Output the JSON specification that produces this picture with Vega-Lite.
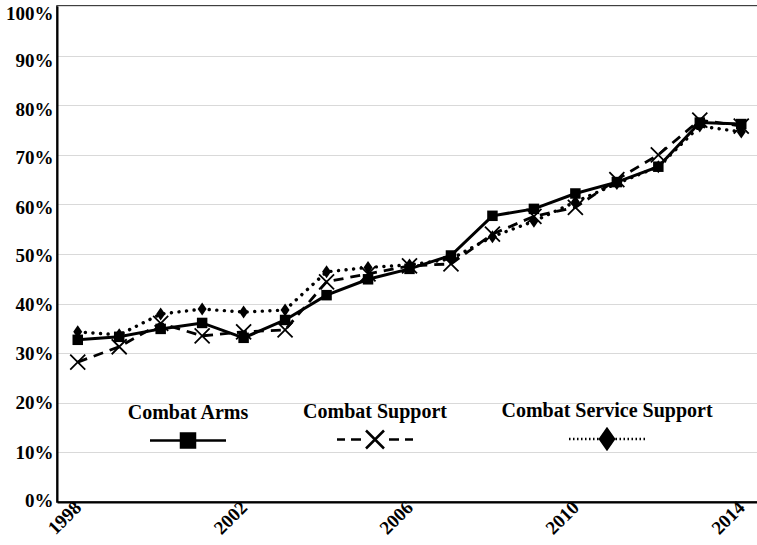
{
  "$schema": "https://vega.github.io/schema/vega-lite/v6.json",
  "width": 705,
  "height": 496,
  "autosize": {"type": "none"},
  "padding": {"left": 57, "top": 6, "right": 0, "bottom": 43},
  "background": "white",
  "config": {"view": {"stroke": "black", "strokeWidth": 1.5}, "font": "Liberation Serif"},
  "data": {"values": [
    {"year": 1998, "series": "Combat Arms", "value": 32.7},
    {"year": 1999, "series": "Combat Arms", "value": 33.3},
    {"year": 2000, "series": "Combat Arms", "value": 34.9},
    {"year": 2001, "series": "Combat Arms", "value": 36.1},
    {"year": 2002, "series": "Combat Arms", "value": 33.1},
    {"year": 2003, "series": "Combat Arms", "value": 36.7},
    {"year": 2004, "series": "Combat Arms", "value": 41.7},
    {"year": 2005, "series": "Combat Arms", "value": 44.9},
    {"year": 2006, "series": "Combat Arms", "value": 47.0},
    {"year": 2007, "series": "Combat Arms", "value": 49.7},
    {"year": 2008, "series": "Combat Arms", "value": 57.7},
    {"year": 2009, "series": "Combat Arms", "value": 59.1},
    {"year": 2010, "series": "Combat Arms", "value": 62.2},
    {"year": 2011, "series": "Combat Arms", "value": 64.5},
    {"year": 2012, "series": "Combat Arms", "value": 67.6},
    {"year": 2013, "series": "Combat Arms", "value": 76.5},
    {"year": 2014, "series": "Combat Arms", "value": 76.2},
    {"year": 1998, "series": "Combat Support", "value": 28.2},
    {"year": 1999, "series": "Combat Support", "value": 31.3},
    {"year": 2000, "series": "Combat Support", "value": 36.0},
    {"year": 2001, "series": "Combat Support", "value": 33.5},
    {"year": 2002, "series": "Combat Support", "value": 34.3},
    {"year": 2003, "series": "Combat Support", "value": 34.7},
    {"year": 2004, "series": "Combat Support", "value": 44.4},
    {"year": 2005, "series": "Combat Support", "value": 46.0},
    {"year": 2006, "series": "Combat Support", "value": 47.6},
    {"year": 2007, "series": "Combat Support", "value": 48.0},
    {"year": 2008, "series": "Combat Support", "value": 54.0},
    {"year": 2009, "series": "Combat Support", "value": 57.6},
    {"year": 2010, "series": "Combat Support", "value": 59.4},
    {"year": 2011, "series": "Combat Support", "value": 65.0},
    {"year": 2012, "series": "Combat Support", "value": 70.0},
    {"year": 2013, "series": "Combat Support", "value": 77.0},
    {"year": 2014, "series": "Combat Support", "value": 75.8},
    {"year": 1998, "series": "Combat Service Support", "value": 34.3},
    {"year": 1999, "series": "Combat Service Support", "value": 33.7},
    {"year": 2000, "series": "Combat Service Support", "value": 37.9},
    {"year": 2001, "series": "Combat Service Support", "value": 38.9},
    {"year": 2002, "series": "Combat Service Support", "value": 38.3},
    {"year": 2003, "series": "Combat Service Support", "value": 38.7},
    {"year": 2004, "series": "Combat Service Support", "value": 46.4},
    {"year": 2005, "series": "Combat Service Support", "value": 47.3},
    {"year": 2006, "series": "Combat Service Support", "value": 47.8},
    {"year": 2007, "series": "Combat Service Support", "value": 49.0},
    {"year": 2008, "series": "Combat Service Support", "value": 53.5},
    {"year": 2009, "series": "Combat Service Support", "value": 56.6},
    {"year": 2010, "series": "Combat Service Support", "value": 60.5},
    {"year": 2011, "series": "Combat Service Support", "value": 64.2},
    {"year": 2012, "series": "Combat Service Support", "value": 67.6},
    {"year": 2013, "series": "Combat Service Support", "value": 75.8},
    {"year": 2014, "series": "Combat Service Support", "value": 74.6}
  ]},
  "encoding": {
    "x": {
      "field": "year", "type": "quantitative",
      "scale": {"domain": [1997.5, 2014.5], "nice": false, "zero": false},
      "axis": {
        "values": [1998, 2002, 2006, 2010, 2014], "format": "d", "labelAngle": -45,
        "labelAlign": "right", "labelBaseline": "middle",
        "grid": false, "ticks": false, "title": null, "labelFlush": false,
        "domainColor": "black", "domainWidth": 2,
        "labelFont": "Liberation Serif", "labelFontSize": 19, "labelFontWeight": "bold",
        "labelColor": "black", "labelPadding": 2
      }
    },
    "y": {
      "field": "value", "type": "quantitative",
      "scale": {"domain": [0, 100], "nice": false},
      "axis": {
        "values": [0, 10, 20, 30, 40, 50, 60, 70, 80, 90, 100],
        "labelExpr": "datum.value + '%'", "title": null, "ticks": false, "labelFlush": false,
        "labelOffset": {
          "condition": [
            {"test": "datum.value >= 95", "value": 7},
            {"test": "datum.value >= 85", "value": 5},
            {"test": "datum.value >= 75", "value": 4},
            {"test": "datum.value >= 55", "value": 3},
            {"test": "datum.value >= 35", "value": 1},
            {"test": "datum.value < 5", "value": -2}
          ],
          "value": 0
        },
        "domainColor": "black", "domainWidth": 2, "gridColor": "#d9d9d9", "gridWidth": 1.2,
        "labelFont": "Liberation Serif", "labelFontSize": 19, "labelFontWeight": "bold",
        "labelColor": "black", "labelPadding": 4
      }
    }
  },
  "layer": [
    {
      "transform": [{"filter": "datum.series === 'Combat Arms'"}],
      "mark": {"type": "line", "strokeWidth": 3},
      "encoding": {
        "color": {
          "field": "series", "type": "nominal",
          "scale": {"domain": ["Combat Arms", "Combat Support", "Combat Service Support"], "range": ["black", "black", "black"]},
          "legend": {
            "orient": "none", "legendX": 131, "legendY": 405, "direction": "horizontal",
            "title": null, "padding": 0, "columnPadding": 54, "symbolSize": 4, "symbolStrokeWidth": 2.5,
            "labelFont": "Liberation Serif", "labelFontSize": 20, "labelFontWeight": "bold",
            "labelColor": "black", "labelLimit": 0,
            "encoding": {
              "symbols": {
                "shape": {"value": {"expr": "datum.value === 'Combat Arms' ? 'M-38,0H38M-7,-7H7V7H-7Z' : datum.value === 'Combat Support' ? 'M-38,0H-30M-24,0H-14M14,0H24M30,0H38M-9,-9L9,9M-9,9L9,-9' : 'M-38,0h1.5M-34,0h1.5M-30,0h1.5M-26,0h1.5M-22,0h1.5M-18,0h1.5M-14,0h1.5M-10,0h1.5M8.5,0h1.5M12.5,0h1.5M16.5,0h1.5M20.5,0h1.5M24.5,0h1.5M28.5,0h1.5M32.5,0h1.5M36.5,0h1.5M0,-10L7,0L0,10L-7,0Z'"}},
                "x": {"value": 0},
                "y": {"value": 28},
                "fill": {"value": "black"},
                "strokeWidth": {"value": 2.5},
                "size": {"value": 4},
                "opacity": {"value": 1}
              },
              "labels": {
                "x": {"value": 0},
                "y": {"value": 0},
                "align": {"value": "center"},
                "baseline": {"value": "middle"}
              }
            }
          }
        }
      }
    },
    {
      "transform": [{"filter": "datum.series === 'Combat Support'"}],
      "mark": {"type": "line", "color": "black", "strokeWidth": 2.8, "strokeDash": [10, 7]},
      "encoding": {}
    },
    {
      "transform": [{"filter": "datum.series === 'Combat Service Support'"}],
      "mark": {"type": "line", "color": "black", "strokeWidth": 3.4, "strokeDash": [0.1, 7.5], "strokeCap": "round"},
      "encoding": {}
    },
    {
      "transform": [{"filter": "datum.series === 'Combat Arms'"}],
      "mark": {"type": "point", "shape": "square", "filled": true, "color": "black", "size": 110, "opacity": 1},
      "encoding": {}
    },
    {
      "transform": [{"filter": "datum.series === 'Combat Support'"}],
      "mark": {"type": "point", "shape": "M-1.5,-1.5L1.5,1.5M-1.5,1.5L1.5,-1.5", "filled": false, "color": "black", "strokeWidth": 1.8, "size": 100, "opacity": 1},
      "encoding": {}
    },
    {
      "transform": [{"filter": "datum.series === 'Combat Service Support'"}],
      "mark": {"type": "point", "shape": "M0,-1.3L0.9,0L0,1.3L-0.9,0Z", "filled": true, "color": "black", "size": 100, "opacity": 1},
      "encoding": {}
    }
  ]
}
